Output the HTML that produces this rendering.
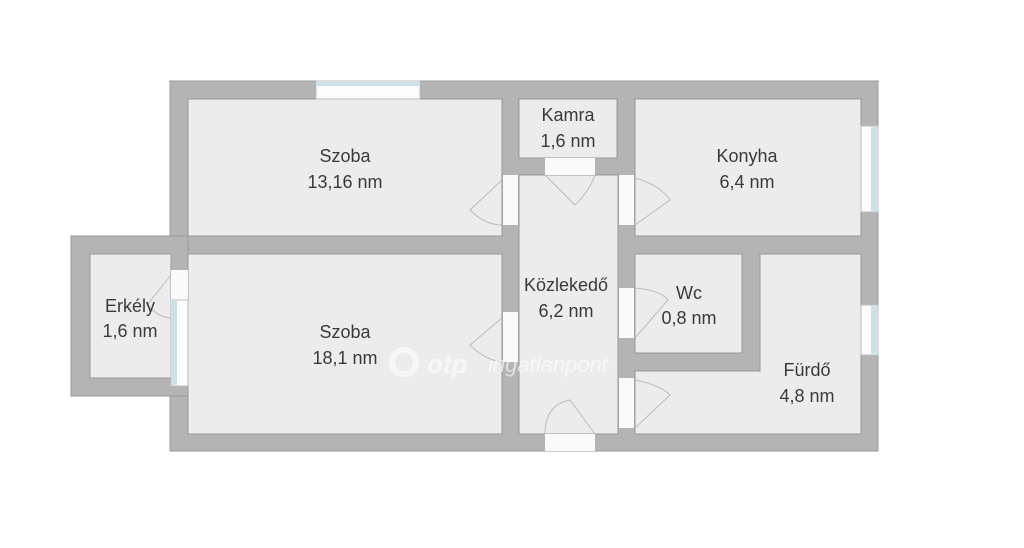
<!DOCTYPE html>
<html><head><meta charset="utf-8"><style>
html,body{margin:0;padding:0;background:#fff;}
svg{display:block}
text{font-family:"Liberation Sans",sans-serif;font-size:18px;fill:#3a3a3a;text-anchor:middle}
</style></head><body>
<svg width="1024" height="548" viewBox="0 0 1024 548" xmlns="http://www.w3.org/2000/svg">
<rect x="170" y="81" width="708" height="370" fill="#b4b4b4" stroke="#9a9a9a" stroke-width="1"/>
<rect x="71" y="236" width="117" height="160" fill="#b4b4b4" stroke="#9a9a9a" stroke-width="1"/>
<g fill="#ececec" stroke="#999" stroke-width="1">
<rect x="188" y="99" width="314" height="137"/>
<rect x="188" y="254" width="314" height="180"/>
<rect x="90" y="254" width="81" height="124"/>
<rect x="519" y="99" width="98" height="59"/>
<rect x="519" y="175" width="99" height="259"/>
<rect x="635" y="99" width="226" height="137"/>
<rect x="635" y="254" width="107" height="99"/>
<path d="M760 254 H861 V434 H635 V371 H760 Z"/>
</g>
<g fill="#fafafa">
<rect x="545" y="434" width="50" height="17"/>
<rect x="545" y="158" width="50" height="17"/>
<rect x="503" y="175" width="15" height="50"/>
<rect x="503" y="312" width="15" height="50"/>
<rect x="619" y="175" width="15" height="50"/>
<rect x="619" y="288" width="15" height="50"/>
<rect x="619" y="378" width="15" height="50"/>
<rect x="171" y="270" width="17" height="30"/>
</g>
<g fill="#fdfdfd" stroke="#bbb" stroke-width="1">
<rect x="316" y="81" width="104" height="18"/>
<rect x="171" y="300" width="17" height="86"/>
<rect x="861" y="126" width="17" height="86"/>
<rect x="861" y="305" width="17" height="50"/>
</g>
<g fill="#cfe0e8">
<rect x="316" y="82" width="104" height="4"/>
<rect x="172" y="300" width="5" height="86"/>
<rect x="871" y="126" width="6" height="86"/>
<rect x="871" y="305" width="6" height="50"/>
</g>
<g fill="none" stroke="#bbb" stroke-width="1">
<path d="M502 180 L470 210 Q485 225 502 225"/>
<path d="M502 318 L470 345 Q485 360 502 362"/>
<path d="M545 175 L575 205 Q590 190 595 175"/>
<path d="M545 434 Q545 405 570 400 L595 434"/>
<path d="M635 178 Q660 185 670 200 L635 225"/>
<path d="M635 288 Q660 290 668 300 L635 338"/>
<path d="M635 380 Q660 385 670 395 L635 428"/>
<path d="M171 275 L147 305 Q160 318 171 318"/>
</g>
<text x="345" y="162">Szoba</text><text x="345" y="188">13,16 nm</text>
<text x="345" y="338">Szoba</text><text x="345" y="364">18,1 nm</text>
<text x="130" y="312">Erkély</text><text x="130" y="337">1,6 nm</text>
<text x="568" y="121">Kamra</text><text x="568" y="147">1,6 nm</text>
<text x="747" y="162">Konyha</text><text x="747" y="188">6,4 nm</text>
<text x="566" y="291">Közlekedő</text><text x="566" y="317">6,2 nm</text>
<text x="689" y="299">Wc</text><text x="689" y="324">0,8 nm</text>
<text x="807" y="376">Fürdő</text><text x="807" y="402">4,8 nm</text>
<g opacity="0.6">
<circle cx="404" cy="362" r="12" fill="none" stroke="#fff" stroke-width="6"/>
<text x="427" y="373" style="fill:#fff;font-size:26px;font-style:italic;font-weight:bold;text-anchor:start">otp</text>
<text x="488" y="372" style="fill:#fff;font-size:22px;font-style:italic;text-anchor:start">ingatlanpont</text>
</g>
</svg>
</body></html>
